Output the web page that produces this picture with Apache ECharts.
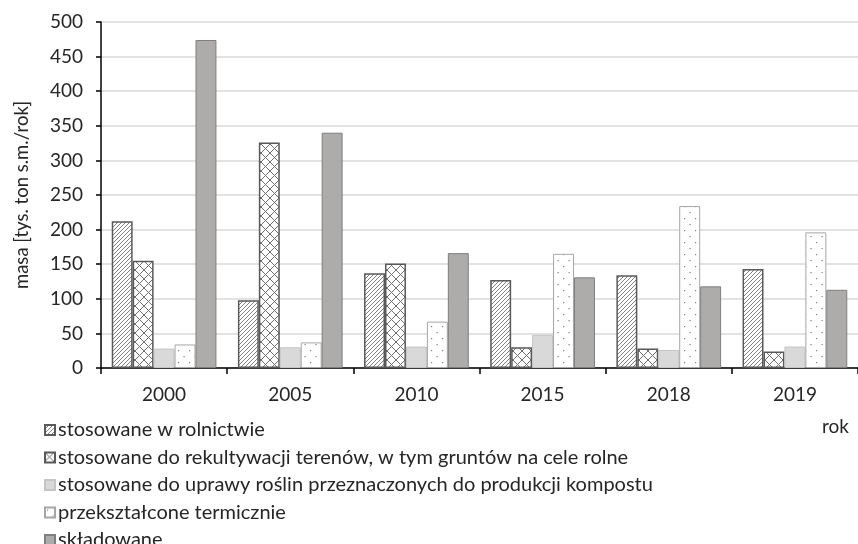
<!DOCTYPE html>
<html>
<head>
<meta charset="utf-8">
<script src="https://cdn.jsdelivr.net/npm/echarts@6/dist/echarts.min.js"></script>
<style>
  html, body { margin: 0; padding: 0; background: #fff; }
  #chart { width: 858px; height: 544px; }
</style>
</head>
<body>
<div id="chart"></div>
<script>
var years = ['2000', '2005', '2010', '2015', '2018', '2019'];
var seriesNames = [
    'stosowane w rolnictwie',
    'stosowane do rekultywacji terenów, w tym gruntów na cele rolne',
    'stosowane do uprawy roślin przeznaczonych do produkcji kompostu',
    'przekształcone termicznie',
    'składowane'
];
var rolnictwo = [212, 98, 137, 127, 134, 143];
var rekultywacja = [155, 326, 151, 30, 28, 24];
var kompost = [28, 30, 31, 48, 26, 31];
var termicznie = [34, 37, 67, 165, 234, 196];
var skladowane = [474, 340, 166, 131, 118, 113];
var yMin = 0, yMax = 500, yStep = 50;

// wzory wypełnienia słupków (kreskowanie, kratka, kropki)
function makePattern(kind) {
    var c = document.createElement('canvas');
    var ctx;
    if (kind === 'diag') {
        c.width = 4; c.height = 4;
        ctx = c.getContext('2d');
        ctx.fillStyle = '#fff';
        ctx.fillRect(0, 0, 4, 4);
        ctx.strokeStyle = '#808080';
        ctx.lineWidth = 1;
        ctx.beginPath();
        ctx.moveTo(-1, 5); ctx.lineTo(5, -1);
        ctx.moveTo(-1, 1); ctx.lineTo(1, -1);
        ctx.moveTo(3, 5); ctx.lineTo(5, 3);
        ctx.stroke();
    } else if (kind === 'cross') {
        c.width = 9; c.height = 9;
        ctx = c.getContext('2d');
        ctx.fillStyle = '#fff';
        ctx.fillRect(0, 0, 9, 9);
        ctx.strokeStyle = '#707070';
        ctx.lineWidth = 1;
        ctx.beginPath();
        ctx.moveTo(0, 0); ctx.lineTo(9, 9);
        ctx.moveTo(9, 0); ctx.lineTo(0, 9);
        ctx.stroke();
    } else {
        c.width = 11; c.height = 12;
        ctx = c.getContext('2d');
        ctx.fillStyle = '#fff';
        ctx.fillRect(0, 0, 11, 12);
        ctx.fillStyle = '#808080';
        ctx.fillRect(2, 2, 1.2, 1.2);
        ctx.fillRect(7.5, 8, 1.2, 1.2);
    }
    return { image: c, repeat: 'repeat' };
}

var styles = [
    { color: makePattern('diag'), borderColor: '#595959', borderWidth: 1.5 },
    { color: makePattern('cross'), borderColor: '#595959', borderWidth: 1.5 },
    { color: '#d9d9d9', borderColor: '#c4c4c4', borderWidth: 1 },
    { color: makePattern('dots'), borderColor: '#a6a6a6', borderWidth: 1 },
    { color: '#aeabab', borderColor: '#7f7f7f', borderWidth: 1 }
];
var values = [rolnictwo, rekultywacja, kompost, termicznie, skladowane];

var font = 'Lato';
var textColor = '#262626';

// legenda w jednej kolumnie, jeden wiersz na serię
var legends = seriesNames.map(function (name, i) {
    return {
        orient: 'vertical',
        left: 44,
        top: 420 + i * 27.5,
        padding: 0,
        itemWidth: 10,
        itemHeight: 10,
        icon: 'rect',
        textStyle: { fontFamily: font, fontSize: 20, color: textColor, lineHeight: 20, padding: [0, 0, 0, -2] },
        data: [name]
    };
});

var myChart = echarts.init(document.getElementById('chart'));
var option = {
    animation: false,
    grid: { left: 101, right: 0, top: 22, bottom: 176 },
    legend: legends,
    xAxis: {
        type: 'category',
        data: years,
        axisLine: { lineStyle: { color: '#000', width: 1.5 } },
        axisTick: { show: true, length: 6, lineStyle: { color: '#000', width: 1.5 } },
        axisLabel: { fontFamily: font, fontSize: 19, color: textColor, margin: 17 }
    },
    yAxis: {
        type: 'value',
        min: yMin,
        max: yMax,
        interval: yStep,
        name: 'masa [tys. ton s.m./rok]',
        nameLocation: 'middle',
        nameGap: 69,
        nameTextStyle: { fontFamily: font, fontSize: 18.5, color: textColor },
        axisLine: { show: true, lineStyle: { color: '#000', width: 1.5 } },
        axisTick: { show: true, length: 5, lineStyle: { color: '#000', width: 1.5 } },
        axisLabel: { fontFamily: font, fontSize: 19, color: textColor, margin: 18 },
        splitLine: { lineStyle: { color: '#d9d9d9', width: 1.5 } }
    },
    graphic: [{
        type: 'text',
        left: 822,
        top: 417,
        style: { text: 'rok', font: '19px ' + font, fill: textColor }
    }],
    series: seriesNames.map(function (name, i) {
        return {
            name: name,
            type: 'bar',
            data: values[i],
            barGap: '0%',
            barCategoryGap: '17%',
            itemStyle: styles[i]
        };
    })
};
myChart.setOption(option);
</script>
</body>
</html>
